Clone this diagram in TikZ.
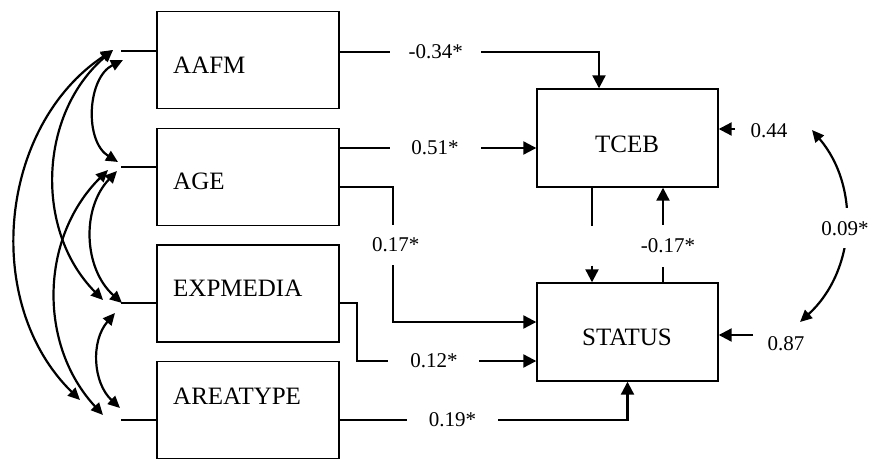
\documentclass[tikz,border=0pt]{standalone}
\usepackage{fontspec}
\setmainfont{Liberation Serif}
\usetikzlibrary{arrows.meta}
\begin{document}
\begin{tikzpicture}[x=1pt,y=-1pt,
  box/.style={draw, line width=1.4pt, minimum width=182pt, minimum height=97pt, inner sep=0pt},
  vname/.style={font=\fontsize{25}{30}\selectfont, inner sep=0pt},
  coef/.style={font=\fontsize{21}{25}\selectfont, fill=white, inner sep=0pt},
  plain/.style={font=\fontsize{21}{25}\selectfont, inner sep=0pt},
  ln/.style={line width=2.2pt},
  conn/.style={ln, -{Triangle[length=13pt,width=13pt]}},
  dbl/.style={ln, {Triangle[length=12pt,width=11pt]}-{Triangle[length=12pt,width=11pt]}},
]
\useasboundingbox (0,0) rectangle (872,458);

% boxes
\node[box] (aafm) at (248,60) {};
\node[box] (age) at (248,177) {};
\node[box] (exp) at (248,293.5) {};
\node[box] (area) at (248,410) {};
\node[box, minimum width=181pt, minimum height=98pt] (tceb) at (627.5,138) {};
\node[box, minimum width=181pt, minimum height=98pt] (status) at (627.5,332) {};

% box texts
\node[vname, anchor=base west] (aafmT) at (173,73) {AAFM};
\node[vname, anchor=base west] (ageT) at (173,189) {AGE};
\node[vname, anchor=base west] (expT) at (173,296) {EXPMEDIA};
\node[vname, anchor=base west] (areaT) at (173,404) {AREATYPE};
\node[vname, anchor=base] (tcebT) at (627,152) {TCEB};
\node[vname, anchor=base] (statT) at (627,345) {STATUS};

% paths
\draw[conn] ([yshift=8pt]aafm.east) -| node[coef, pos=0.185, minimum width=91pt, minimum height=20pt]{-0.34*} ([xshift=-28.5pt]tceb.north);
\draw[conn] ([yshift=29pt]age.east) -- node[coef, pos=0.485, minimum width=91pt, minimum height=20pt]{0.51*} ([yshift=-10pt]tceb.west);
\draw[conn] ([yshift=-10pt]age.east) -- ++(53,0) |- node[coef, pos=0.215, xshift=3pt, minimum width=30pt, minimum height=40pt]{0.17*} ([yshift=10pt]status.west);
\draw[conn] ([yshift=-9.5pt]exp.east) -- ++(17,0) |- node[coef, pos=0.715, minimum width=91pt, minimum height=20pt]{0.12*} ([yshift=-29pt]status.west);
\draw[conn] ([yshift=-10pt]area.east) -| node[coef, pos=0.196, minimum width=91pt, minimum height=20pt]{0.19*} (status.south);
\draw[conn] ([xshift=35.5pt]status.north) -- node[coef, pos=0.385, xshift=5pt, minimum height=42pt]{-0.17*} ([xshift=35.5pt]tceb.south);
\draw[conn] ([xshift=-35.5pt]tceb.south) -- ++(0,38) ++(0,40) -- ([xshift=-35.5pt]status.north);

% residuals
\coordinate (e44) at (735,129);
\coordinate (e87) at (753,335);
\node[plain, anchor=base] (l44) at (769,137) {0.44};
\node[plain, anchor=base] (l87) at (786,350) {0.87};
\draw[conn] (e44) -- ([yshift=9pt]tceb.east);
\draw[conn] (e87) -- ([yshift=-3pt]status.east);
\coordinate (r1) at (812,130);
\coordinate (r2) at (800,322);
\draw[dbl] (r1) to[bend left=44] node[coef, minimum height=40pt]{0.09*} (r2);

% left stubs
\coordinate (s1) at (121,51);
\coordinate (s2) at (121,167);
\coordinate (s3) at (121,303);
\coordinate (s4) at (121,420);
\draw[ln] (s1) -- (s1 -| aafm.west);
\draw[ln] (s2) -- (s2 -| age.west);
\draw[ln] (s3) -- (s3 -| exp.west);
\draw[ln] (s4) -- (s4 -| area.west);

% covariance arcs
\coordinate (e1a) at (113,50);
\coordinate (e1b) at (123,60);
\coordinate (e2a) at (118,162);
\coordinate (e2b) at (108,170);
\coordinate (e2c) at (117,171);
\coordinate (e3a) at (103,300);
\coordinate (e3b) at (122,303);
\coordinate (e3c) at (115,313);
\coordinate (e4a) at (80,400);
\coordinate (e4b) at (103,415);
\coordinate (e4c) at (120,408);
\draw[dbl] (e1a) to[bend right=51] (e4a);
\draw[dbl] (e1a) to[bend right=47] (e3a);
\draw[dbl] (e1b) to[bend right=61] (e2a);
\draw[dbl] (e2c) to[bend right=46] (e3b);
\draw[dbl] (e2b) to[bend right=44] (e4b);
\draw[dbl] (e3c) to[bend right=44] (e4c);
\end{tikzpicture}
\end{document}
